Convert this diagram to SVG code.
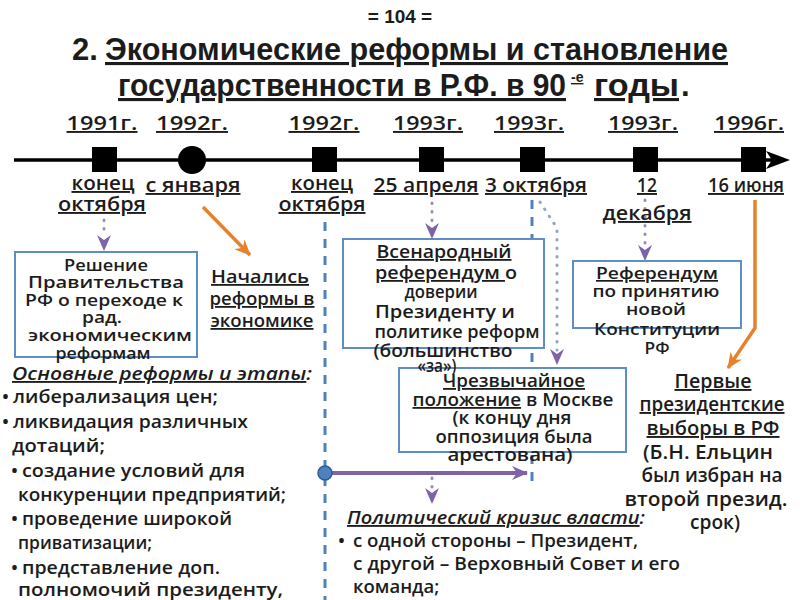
<svg xmlns="http://www.w3.org/2000/svg" width="800" height="600" viewBox="0 0 800 600">
<defs>
<style>
.t{font-family:"Open Sans","Liberation Sans",sans-serif;font-weight:600;fill:#1c1c1c}
.ttl{font-family:"Liberation Sans Narrow","Liberation Sans",sans-serif;font-weight:bold;fill:#1c1c1c}
.u{text-decoration:underline}
.yr{font-size:19px;text-anchor:middle}
.dt{font-size:19px;text-anchor:middle}
.b1{font-size:17px;text-anchor:middle}
.b2{font-size:18px;text-anchor:middle}
.b3{font-size:17px;text-anchor:middle}
.b4{font-size:18px;text-anchor:middle}
.pv{font-size:19px;text-anchor:middle}
.ls{font-size:18.5px}
.it{font-style:italic}
.box{fill:#fff;stroke:#5F8DC6;stroke-width:2}
.mk{fill:#000}
.dash{fill:none;stroke:#4F81BD;stroke-width:3;stroke-dasharray:9 8}
.pdot{fill:none;stroke:#9B8BC0;stroke-width:3;stroke-linecap:round;stroke-dasharray:0.5 8}
.gdot{fill:none;stroke:#8FA5C0;stroke-width:3;stroke-linecap:round;stroke-dasharray:0.5 8}
.or{fill:none;stroke:#E7822B;stroke-width:3.5}
</style>
<marker id="ap" viewBox="0 0 16 14" refX="15" refY="7" markerWidth="16" markerHeight="14" orient="auto" markerUnits="userSpaceOnUse"><path d="M0,0 L16,7 L0,14 L5,7 Z" fill="#7F63A8"/></marker>
<marker id="ao" viewBox="0 0 16 14" refX="15" refY="7" markerWidth="16" markerHeight="14" orient="auto" markerUnits="userSpaceOnUse"><path d="M0,0 L16,7 L0,14 L5,7 Z" fill="#E7822B"/></marker>
</defs>
<rect width="800" height="600" fill="#fff"/>

<g id="title">
<text class="ttl" x="400" y="23" font-size="19" text-anchor="middle">= 104 =</text>
<text class="ttl" x="72" y="60" font-size="31">2.</text>
<text class="ttl u" x="105" y="60" font-size="31" textLength="623" lengthAdjust="spacingAndGlyphs">Экономические реформы и становление</text>
<text class="ttl u" x="118" y="96" font-size="31" textLength="448" lengthAdjust="spacingAndGlyphs">государственности в Р.Ф. в 90</text>
<text class="ttl u" x="571" y="82" font-size="14">-е</text>
<text class="ttl u" x="594" y="96" font-size="31" textLength="85" lengthAdjust="spacingAndGlyphs">годы</text>
<text class="ttl" x="681" y="96" font-size="31">.</text>
</g>

<g id="connectors">
<path d="M14,160 L772,160" stroke="#000" stroke-width="3.5"/>
<path d="M766,151 L790,160 L766,169 L772,160 Z" fill="#000"/>
<path class="pdot" d="M104,220 L104,236"/>
<path d="M104,236 L104,250" stroke="none" fill="none" marker-end="url(#ap)"/>
<path class="or" d="M203,207 L250,255" marker-end="url(#ao)"/>
<path class="dash" d="M325,222 L325,600"/>
<path class="pdot" d="M432,203 L432,224"/>
<path d="M432,224 L432,238" fill="none" marker-end="url(#ap)"/>
<path class="dash" d="M532,200 L532,488"/>
<path class="gdot" d="M540,202 L557,228 L557,350"/>
<path d="M557,348 L557,364" fill="none" marker-end="url(#ap)"/>
<path class="pdot" d="M645,200 L645,246"/>
<path d="M645,246 L645,260" fill="none" marker-end="url(#ap)"/>
<path class="or" d="M755,200 L755,328 L728,368" marker-end="url(#ao)"/>
<path d="M325,473 L527,473" stroke="#8064A2" stroke-width="4" fill="none" marker-end="url(#ap)"/>
<circle cx="325" cy="473" r="7" fill="#4F81BD" stroke="#2F5C8F" stroke-width="1.5"/>
<path class="pdot" d="M432,478 L432,488"/>
<path d="M432,488 L432,503" fill="none" marker-end="url(#ap)"/>
</g>

<g id="t1991">
<rect class="mk" x="92" y="147" width="25" height="25"/>
<text class="t yr u" x="102" y="130" textLength="71" lengthAdjust="spacingAndGlyphs">1991г.</text>
<text class="t dt u" x="103" y="190" textLength="63" lengthAdjust="spacingAndGlyphs">конец</text>
<text class="t dt u" x="102" y="211" textLength="88" lengthAdjust="spacingAndGlyphs">октября</text>
</g>
<g id="t1992jan">
<circle class="mk" cx="192" cy="160" r="14"/>
<text class="t yr u" x="192" y="130" textLength="72" lengthAdjust="spacingAndGlyphs">1992г.</text>
<text class="t dt u" x="193" y="192" textLength="95" lengthAdjust="spacingAndGlyphs">с января</text>
</g>
<g id="t1992oct">
<rect class="mk" x="312" y="147" width="25" height="25"/>
<text class="t yr u" x="324" y="130" textLength="71" lengthAdjust="spacingAndGlyphs">1992г.</text>
<text class="t dt u" x="322" y="190" textLength="62" lengthAdjust="spacingAndGlyphs">конец</text>
<text class="t dt u" x="322" y="211" textLength="87" lengthAdjust="spacingAndGlyphs">октября</text>
</g>
<g id="t1993apr">
<rect class="mk" x="419" y="147" width="25" height="25"/>
<text class="t yr u" x="428" y="130" textLength="70" lengthAdjust="spacingAndGlyphs">1993г.</text>
<text class="t dt u" x="426" y="192" textLength="105" lengthAdjust="spacingAndGlyphs">25 апреля</text>
</g>
<g id="t1993oct">
<rect class="mk" x="520" y="147" width="25" height="25"/>
<text class="t yr u" x="529" y="130" textLength="70" lengthAdjust="spacingAndGlyphs">1993г.</text>
<text class="t dt u" x="536" y="192" textLength="102" lengthAdjust="spacingAndGlyphs">3 октября</text>
</g>
<g id="t1993dec">
<rect class="mk" x="633" y="147" width="25" height="25"/>
<text class="t yr u" x="643" y="130" textLength="70" lengthAdjust="spacingAndGlyphs">1993г.</text>
<text class="t dt u" x="647" y="192" textLength="20" lengthAdjust="spacingAndGlyphs">12</text>
<text class="t dt u" x="647" y="220" textLength="89" lengthAdjust="spacingAndGlyphs">декабря</text>
</g>
<g id="t1996">
<rect class="mk" x="741" y="147" width="25" height="25"/>
<text class="t yr u" x="749" y="130" textLength="70" lengthAdjust="spacingAndGlyphs">1996г.</text>
<text class="t dt u" x="746" y="192" textLength="76" lengthAdjust="spacingAndGlyphs">16 июня</text>
</g>

<g id="box-reshenie">
<rect class="box" x="15" y="252" width="182" height="105"/>
<text class="t b1" x="106" y="271" textLength="84" lengthAdjust="spacingAndGlyphs">Решение</text>
<text class="t b1" x="106" y="288" textLength="156" lengthAdjust="spacingAndGlyphs">Правительства</text>
<text class="t b1" x="104" y="306" textLength="158" lengthAdjust="spacingAndGlyphs">РФ о переходе к</text>
<text class="t b1" x="102" y="323" textLength="40" lengthAdjust="spacingAndGlyphs">рад.</text>
<text class="t b1" x="110" y="341" textLength="164" lengthAdjust="spacingAndGlyphs">экономическим</text>
<text class="t b1" x="103" y="359" textLength="95" lengthAdjust="spacingAndGlyphs">реформам</text>
</g>

<g id="nachalis">
<text class="t b2 u" x="260" y="283" textLength="98" lengthAdjust="spacingAndGlyphs">Начались</text>
<text class="t b2 u" x="262" y="305" textLength="105" lengthAdjust="spacingAndGlyphs">реформы в</text>
<text class="t b2 u" x="262" y="327" textLength="103" lengthAdjust="spacingAndGlyphs">экономике</text>
</g>

<g id="box-referendum93">
<rect class="box" x="343" y="239" width="201" height="109"/>
<text class="t b2" x="444" y="258" textLength="135" lengthAdjust="spacingAndGlyphs"><tspan class="u">Всенародный</tspan></text>
<text class="t b2" x="446" y="279" textLength="142" lengthAdjust="spacingAndGlyphs"><tspan class="u">референдум </tspan>о</text>
<text class="t b2" x="441" y="298" textLength="73" lengthAdjust="spacingAndGlyphs">доверии</text>
<text class="t b2" x="445" y="318" textLength="140" lengthAdjust="spacingAndGlyphs">Президенту  и</text>
<text class="t b2" x="457" y="338" textLength="165" lengthAdjust="spacingAndGlyphs">политике реформ</text>
<text class="t b2" x="443" y="357" textLength="139" lengthAdjust="spacingAndGlyphs">(большинство</text>
</g>

<g id="box-constitution">
<rect class="box" x="573" y="261" width="168" height="67"/>
<text class="t b3 u" x="657" y="279" textLength="122" lengthAdjust="spacingAndGlyphs">Референдум</text>
<text class="t b3" x="656" y="297" textLength="127" lengthAdjust="spacingAndGlyphs">по принятию</text>
<text class="t b3" x="656" y="315" textLength="60" lengthAdjust="spacingAndGlyphs">новой</text>
<text class="t b3" x="657" y="335" textLength="126" lengthAdjust="spacingAndGlyphs">Конституции</text>
<text class="t b3" x="657" y="354" textLength="25" lengthAdjust="spacingAndGlyphs">РФ</text>
</g>

<g id="box-emergency">
<rect class="box" x="399" y="368" width="227" height="84"/>
<text class="t b4 u" x="514" y="387" textLength="142" lengthAdjust="spacingAndGlyphs">Чрезвычайное</text>
<text class="t b4" x="513" y="406" textLength="201" lengthAdjust="spacingAndGlyphs"><tspan class="u">положение</tspan> в Москве</text>
<text class="t b4" x="512" y="424" textLength="119" lengthAdjust="spacingAndGlyphs">(к концу дня</text>
<text class="t b4" x="514" y="443" textLength="157" lengthAdjust="spacingAndGlyphs">оппозиция была</text>
<text class="t b4" x="510" y="461" textLength="125" lengthAdjust="spacingAndGlyphs">арестована)</text>
</g>
<text class="t b2" x="437" y="372" textLength="39" lengthAdjust="spacingAndGlyphs">«за»)</text>

<g id="elections">
<text class="t pv u" x="713" y="388" textLength="77" lengthAdjust="spacingAndGlyphs">Первые</text>
<text class="t pv u" x="712" y="411" textLength="145" lengthAdjust="spacingAndGlyphs">президентские</text>
<text class="t pv u" x="713" y="435" textLength="133" lengthAdjust="spacingAndGlyphs">выборы в РФ</text>
<text class="t pv" x="708" y="459" textLength="130" lengthAdjust="spacingAndGlyphs">(Б.Н. Ельцин</text>
<text class="t pv" x="712" y="482" textLength="141" lengthAdjust="spacingAndGlyphs">был избран на</text>
<text class="t pv" x="706" y="506" textLength="163" lengthAdjust="spacingAndGlyphs">второй презид.</text>
<text class="t pv" x="715" y="529" textLength="50" lengthAdjust="spacingAndGlyphs">срок)</text>
</g>

<g id="reforms-list">
<text class="t ls it" x="12" y="380" textLength="300" lengthAdjust="spacingAndGlyphs"><tspan class="u">Основные реформы и этапы</tspan>:</text>
<text class="t ls" x="2" y="403">•</text>
<text class="t ls" x="13" y="403" textLength="205" lengthAdjust="spacingAndGlyphs">либерализация цен;</text>
<text class="t ls" x="2" y="428">•</text>
<text class="t ls" x="13" y="428" textLength="235" lengthAdjust="spacingAndGlyphs">ликвидация различных</text>
<text class="t ls" x="12" y="452" textLength="93" lengthAdjust="spacingAndGlyphs">дотаций;</text>
<text class="t ls" x="11" y="477">•</text>
<text class="t ls" x="22" y="477" textLength="223" lengthAdjust="spacingAndGlyphs">создание условий для</text>
<text class="t ls" x="18" y="501" textLength="268" lengthAdjust="spacingAndGlyphs">конкуренции предприятий;</text>
<text class="t ls" x="11" y="525">•</text>
<text class="t ls" x="22" y="525" textLength="210" lengthAdjust="spacingAndGlyphs">проведение широкой</text>
<text class="t ls" x="18" y="549" textLength="134" lengthAdjust="spacingAndGlyphs">приватизации;</text>
<text class="t ls" x="11" y="574">•</text>
<text class="t ls" x="22" y="574" textLength="198" lengthAdjust="spacingAndGlyphs">представление доп.</text>
<text class="t ls" x="18" y="596" textLength="265" lengthAdjust="spacingAndGlyphs">полномочий президенту,</text>
</g>

<g id="crisis-list">
<text class="t ls it" x="347" y="524" textLength="298" lengthAdjust="spacingAndGlyphs"><tspan class="u">Политический кризис власти</tspan>:</text>
<text class="t ls" x="338" y="547">•</text>
<text class="t ls" x="353" y="547" textLength="285" lengthAdjust="spacingAndGlyphs">с одной стороны – Президент,</text>
<text class="t ls" x="353" y="570" textLength="327" lengthAdjust="spacingAndGlyphs">с другой – Верховный Совет и его</text>
<text class="t ls" x="353" y="593">команда;</text>
</g>
</svg>
